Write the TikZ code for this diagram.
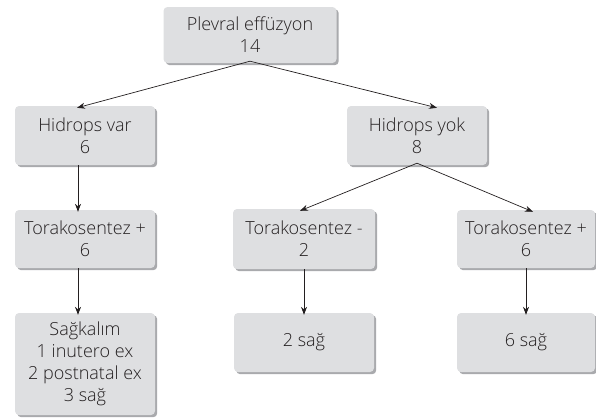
\documentclass[tikz,border=0pt]{standalone}
\usepackage{fontspec}
\setmainfont{Open Sans Light}
\usetikzlibrary{arrows.meta, positioning, shadows}
\definecolor{boxgray}{HTML}{DEDFE1}
\definecolor{shadegray}{HTML}{A9AAAD}
\definecolor{inkgray}{HTML}{231F20}
\begin{document}
\begin{tikzpicture}[
    x=1pt, y=-1pt,
    flowbox/.style={rectangle, rounded corners=4pt, fill=boxgray, align=center,
      minimum width=140pt, minimum height=59pt, inner sep=0pt, text=inkgray,
      drop shadow={shadow xshift=2.2pt, shadow yshift=-2.2pt, fill=shadegray, opacity=1},
      font=\fontsize{18}{22}\selectfont},
    arrow/.style={-{Stealth[length=8pt, width=6pt]}, line width=0.7pt, inkgray},
  ]
  \useasboundingbox (0,0) rectangle (596,418);

  % top level
  \node[flowbox, minimum width=173pt, minimum height=56pt] (pleff) at (250, 35) {Plevral effüzyon\\14};

  % hydrops yes / no
  \node[flowbox] (hvar) at (85, 135.5) {Hidrops var\\6};
  \node[flowbox] (hyok) at (417, 135.5) {Hidrops yok\\8};

  % thoracentesis
  \node[flowbox, minimum height=58pt] (tkleft) at (85, 239) {Torakosentez +\\6};
  \node[flowbox, minimum width=142pt, minimum height=60pt] (tkmid) at (304, 239) {Torakosentez -\\2};
  \node[flowbox, minimum width=138pt, minimum height=58pt] (tkright) at (526, 239) {Torakosentez +\\6};

  % outcome
  \node[flowbox, minimum height=102pt] (sagk) at (85, 364) {Sağkalım\\1 inutero ex\\2 postnatal ex\\3 sağ};
  \node[flowbox] (sag2) at (304, 342.5) {2 sağ};
  \node[flowbox, minimum width=138pt] (sag6) at (526, 342.5) {6 sağ};

  \draw[arrow] ([yshift=2pt] pleff.south) -- ([xshift=-8pt, yshift=-2pt] hvar.north);
  \draw[arrow] ([yshift=2pt] pleff.south) -- ([xshift=20pt, yshift=-2pt] hyok.north);
  \draw[arrow] ([xshift=-7pt] hvar.south) -- ([xshift=-7pt, yshift=-2pt] tkleft.north);
  \draw[arrow] ([yshift=2pt] hyok.south) -- ([xshift=-4pt, yshift=-2pt] tkmid.north);
  \draw[arrow] ([yshift=2pt] hyok.south) -- ([xshift=7pt, yshift=-2pt] tkright.north);
  \draw[arrow] ([xshift=-7pt] tkleft.south) -- ([xshift=-7pt, yshift=-2pt] sagk.north);
  \draw[arrow] (tkmid.south) -- ([yshift=-2pt] sag2.north);
  \draw[arrow] (tkright.south) -- ([yshift=-2pt] sag6.north);
\end{tikzpicture}
\end{document}
